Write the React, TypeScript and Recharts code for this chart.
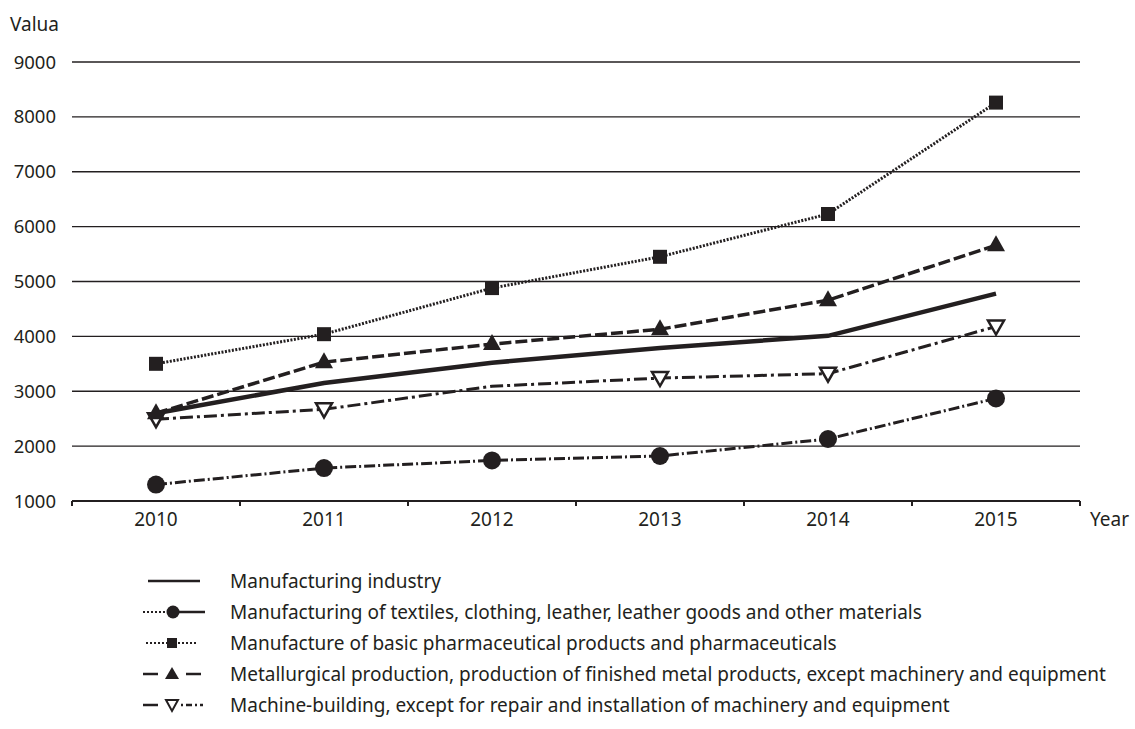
import React from 'react'
import { LineChart, Line, XAxis, YAxis, CartesianGrid } from 'recharts'

if (typeof document !== 'undefined') document.body.style.margin = '0'

const years = [2010, 2011, 2012, 2013, 2014, 2015]
const manufacturing = [2600, 3150, 3520, 3790, 4010, 4780]
const textiles = [1300, 1600, 1740, 1820, 2130, 2870]
const pharma = [3500, 4040, 4880, 5450, 6230, 8260]
const metallurgy = [2600, 3530, 3860, 4130, 4660, 5660]
const machine = [2490, 2670, 3090, 3240, 3320, 4180]
const yTicks = [1000, 2000, 3000, 4000, 5000, 6000, 7000, 8000, 9000]
const xTicks = [2009.5, 2010, 2010.5, 2011, 2011.5, 2012, 2012.5, 2013, 2013.5, 2014, 2014.5, 2015, 2015.5]

const names = [
  'Manufacturing industry',
  'Manufacturing of textiles, clothing, leather, leather goods and other materials',
  'Manufacture of basic pharmaceutical products and pharmaceuticals',
  'Metallurgical production, production of finished metal products, except machinery and equipment',
  'Machine-building, except for repair and installation of machinery and equipment',
]

const data = years.map((year, i) => ({
  year,
  manufacturing: manufacturing[i],
  textiles: textiles[i],
  pharma: pharma[i],
  metallurgy: metallurgy[i],
  machine: machine[i],
}))

const INK = '#231f20'
const FONT = '"Noto Sans", sans-serif'

const Circle = (p: any) => <circle key={p.index} cx={p.cx} cy={p.cy} r={9} fill={INK} />
const Square = (p: any) => <rect key={p.index} x={p.cx - 7} y={p.cy - 7} width={14} height={14} fill={INK} />
const Tri = (p: any) => (
  <path key={p.index} d={`M${p.cx},${p.cy - 10} L${p.cx + 9},${p.cy + 6} L${p.cx - 9},${p.cy + 6} Z`} fill={INK} />
)
// the 2012 marker is not visible in the source picture
const InvTri = (p: any) =>
  p.index === 2 ? (
    <g key={p.index} />
  ) : (
    <path
      key={p.index}
      d={`M${p.cx - 8},${p.cy - 6} L${p.cx + 8},${p.cy - 6} L${p.cx},${p.cy + 8} Z`}
      fill="#fff"
      stroke={INK}
      strokeWidth={2.5}
    />
  )

const XTick = (props: any) => {
  const { x, y, payload } = props
  if (payload.value % 1 !== 0) {
    return <line x1={x} x2={x} y1={y - 5} y2={y} stroke={INK} strokeWidth={2} />
  }
  return (
    <text x={x} y={y + 20} textAnchor="middle" fill={INK} fontSize={19} fontFamily={FONT}>
      {payload.value}
    </text>
  )
}

function LegendIcon({ i }: { i: number }) {
  const y = 10
  return (
    <svg width={80} height={20} style={{ display: 'block' }}>
      {i === 0 && <line x1={5} x2={57} y1={y} y2={y} stroke={INK} strokeWidth={2.5} />}
      {i === 1 && (
        <g>
          <line x1={0} x2={22} y1={y} y2={y} stroke={INK} strokeWidth={2} strokeDasharray="2 2" />
          <line x1={22} x2={62} y1={y} y2={y} stroke={INK} strokeWidth={2.5} strokeDasharray="0 10 20" />
          <circle cx={30} cy={y} r={6.5} fill={INK} />
        </g>
      )}
      {i === 2 && (
        <g>
          <line x1={3} x2={54} y1={y} y2={y} stroke={INK} strokeWidth={2} strokeDasharray="2 2" />
          <rect x={24} y={y - 5} width={10} height={10} fill={INK} />
        </g>
      )}
      {i === 3 && (
        <g>
          <line x1={0} x2={15} y1={y} y2={y} stroke={INK} strokeWidth={2.5} />
          <line x1={43} x2={58} y1={y} y2={y} stroke={INK} strokeWidth={2.5} />
          <path d={`M29,${y - 7} L36,${y + 5} L22,${y + 5} Z`} fill={INK} />
        </g>
      )}
      {i === 4 && (
        <g>
          <line x1={0} x2={15} y1={y} y2={y} stroke={INK} strokeWidth={2.5} />
          <line x1={38} x2={60} y1={y} y2={y} stroke={INK} strokeWidth={2.5} strokeDasharray="2 3 6 3" />
          <path d={`M23,${y - 5} L35,${y - 5} L29,${y + 6} Z`} fill="#fff" stroke={INK} strokeWidth={2} />
        </g>
      )}
    </svg>
  )
}

export default function App() {
  return (
    <div style={{ position: 'relative', width: 1135, height: 729, background: '#fff', fontFamily: FONT, color: INK }}>
      <div style={{ position: 'absolute', left: 10, top: 11, fontSize: 19 }}>Valua</div>
      <div style={{ position: 'absolute', left: 1090, top: 506, fontSize: 19 }}>Year</div>
      <LineChart width={1135} height={545} data={data} margin={{ top: 62, right: 55, left: 0, bottom: 4 }}>
        <CartesianGrid horizontal vertical={false} stroke={INK} strokeWidth={1.3} />
        <XAxis
          dataKey="year"
          type="number"
          domain={[2009.5, 2015.5]}
          ticks={xTicks}
          interval={0}
          height={40}
          tickLine={false}
          tickSize={5}
          tickMargin={0}
          axisLine={{ stroke: INK, strokeWidth: 2 }}
          tick={<XTick />}
        />
        <YAxis
          domain={[1000, 9000]}
          ticks={yTicks}
          interval={0}
          width={72}
          axisLine={false}
          tickLine={false}
          tickMargin={10}
          tick={{ fill: INK, fontSize: 18.5, fontFamily: FONT }}
        />
        <Line dataKey="machine" stroke={INK} strokeWidth={3} strokeDasharray="13 4 3 4" dot={<InvTri />} isAnimationActive={false} />
        <Line dataKey="textiles" stroke={INK} strokeWidth={3} strokeDasharray="11 3 2 3" dot={<Circle />} isAnimationActive={false} />
        <Line dataKey="pharma" stroke={INK} strokeWidth={3} strokeDasharray="2 1.5" dot={<Square />} isAnimationActive={false} />
        <Line dataKey="metallurgy" stroke={INK} strokeWidth={3.5} strokeDasharray="12 4" dot={<Tri />} isAnimationActive={false} />
        <Line dataKey="manufacturing" stroke={INK} strokeWidth={4.5} dot={false} isAnimationActive={false} />
      </LineChart>
      <div style={{ position: 'absolute', left: 143, top: 565 }}>
        {names.map((n, i) => (
          <div key={n} style={{ display: 'flex', alignItems: 'center', height: 31 }}>
            <LegendIcon i={i} />
            <span style={{ fontSize: 19, marginLeft: 7, whiteSpace: 'nowrap' }}>{n}</span>
          </div>
        ))}
      </div>
    </div>
  )
}
